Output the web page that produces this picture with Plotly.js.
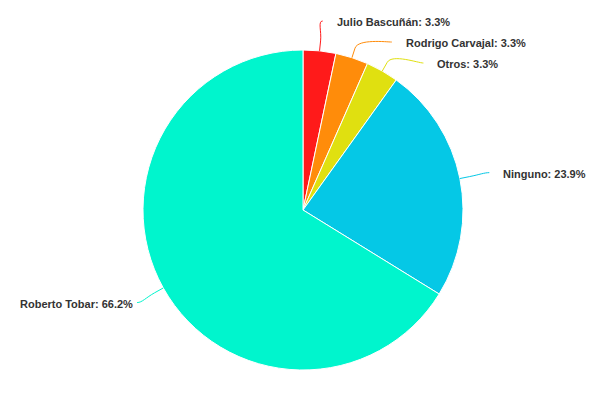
<!DOCTYPE html>
<html>
<head>
<meta charset="utf-8">
<script src="https://cdn.plot.ly/plotly-3.0.1.min.js"></script>
<style>
  html, body { margin: 0; padding: 0; background: #fff; }
  #grafico { width: 600px; height: 400px; }
</style>
</head>
<body>
<div id="grafico"></div>
<script>
// datos de la torta (orden horario desde las 12)
const nombres = ['Julio Bascuñán', 'Rodrigo Carvajal', 'Otros', 'Ninguno', 'Roberto Tobar'];
const porcentajes = [3.3, 3.3, 3.3, 23.9, 66.2];
const colores = ['#ff1a1a', '#ff8c0a', '#e0e010', '#05c8e6', '#00f5cd'];

// geometría en píxeles (márgenes en cero => paper = figura completa)
const ANCHO = 600, ALTO = 400;
const CX = 303, CY = 210, RADIO = 160;
const DISTANCIA = 30;     // separación de la etiqueta respecto del borde
const SALTO_MIN = 21;     // espacio vertical mínimo entre etiquetas

const px = (x) => x / ANCHO;
const py = (y) => 1 - y / ALTO;

const total = porcentajes.reduce((a, b) => a + b, 0);

// posición natural de cada etiqueta según el ángulo medio de su porción
let acumulado = 0;
const etiquetas = porcentajes.map((v, i) => {
  const ang = 2 * Math.PI * (acumulado + v / 2) / total;
  acumulado += v;
  const R = RADIO + DISTANCIA;
  return {
    i,
    ang,
    lado: Math.sin(ang) >= 0 ? 1 : -1,
    y: CY - R * Math.cos(ang),
  };
});

// empujar hacia abajo las etiquetas que se pisan (cada lado por separado)
[1, -1].forEach((lado) => {
  const grupo = etiquetas.filter((e) => e.lado === lado).sort((a, b) => a.y - b.y);
  let previo = -Infinity;
  grupo.forEach((e) => {
    e.y = Math.max(e.y, previo + SALTO_MIN);
    previo = e.y;
  });
});

const shapes = [];
const annotations = [];
etiquetas.forEach((e) => {
  const R = RADIO + DISTANCIA;
  const dy = e.y - CY;
  const dx = Math.sqrt(Math.max(0, R * R - dy * dy));
  const lx = CX + e.lado * dx;
  const ly = e.y;
  // punto donde toca la porción y punto de quiebre
  const tx = CX + RADIO * Math.sin(e.ang), ty = CY - RADIO * Math.cos(e.ang);
  const bx = CX + (RADIO + 10) * Math.sin(e.ang), by = CY - (RADIO + 10) * Math.cos(e.ang);
  const c1x = lx - e.lado * 5, c1y = ly;
  const c2x = 2 * bx - tx, c2y = 2 * by - ty;
  shapes.push({
    type: 'path',
    xref: 'paper', yref: 'paper',
    path: `M ${px(lx)},${py(ly)} C ${px(c1x)},${py(c1y)} ${px(c2x)},${py(c2y)} ${px(bx)},${py(by)} L ${px(tx)},${py(ty)}`,
    line: { color: colores[e.i], width: 1 },
  });
  annotations.push({
    xref: 'paper', yref: 'paper',
    x: px(lx + (e.lado > 0 ? 12 : -2)),
    y: py(ly + 1),
    xanchor: e.lado > 0 ? 'left' : 'right',
    yanchor: 'middle',
    showarrow: false,
    text: `<b>${nombres[e.i]}: ${porcentajes[e.i].toFixed(1)}%</b>`,
    font: { family: '"Liberation Sans", Arial, Helvetica, sans-serif', size: 11, color: '#333333' },
  });
});

const torta = {
  type: 'pie',
  labels: nombres,
  values: porcentajes,
  sort: false,
  direction: 'clockwise',
  rotation: 0,
  textinfo: 'none',
  hoverinfo: 'label+percent',
  marker: { colors: colores, line: { color: '#ffffff', width: 1 } },
  domain: {
    x: [px(CX - RADIO), px(CX + RADIO)],
    y: [py(CY + RADIO), py(CY - RADIO)],
  },
  showlegend: false,
};

const layout = {
  width: ANCHO,
  height: ALTO,
  margin: { t: 0, r: 0, b: 0, l: 0 },
  paper_bgcolor: '#ffffff',
  showlegend: false,
  shapes,
  annotations,
};

Plotly.newPlot('grafico', [torta], layout, { displayModeBar: false, staticPlot: true });
</script>
</body>
</html>
